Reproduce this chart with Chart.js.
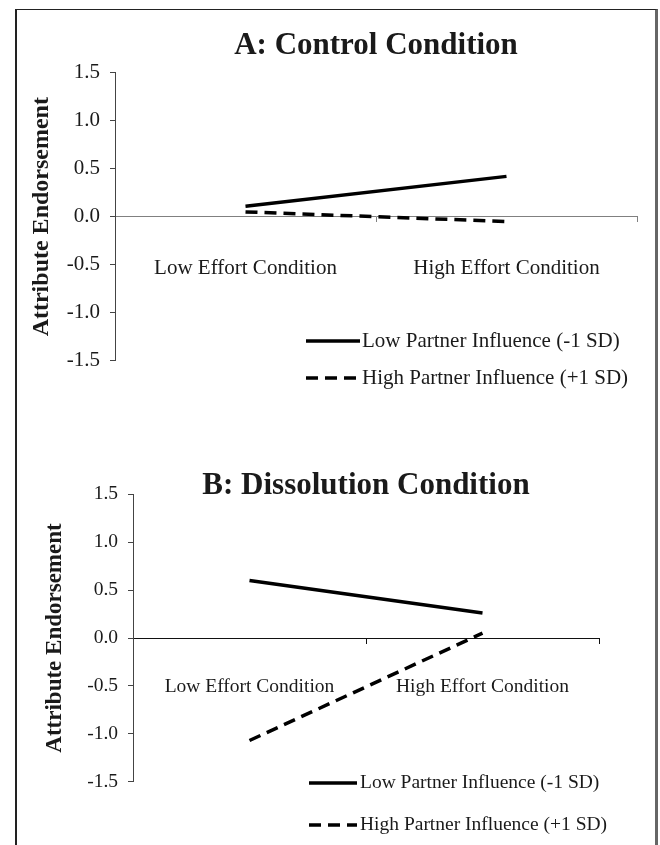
<!DOCTYPE html>
<html><head><meta charset="utf-8">
<script src="https://cdn.jsdelivr.net/npm/chart.js@4"></script>
<style>
html,body{margin:0;padding:0;background:#fff;}
#wrap{position:relative;width:660px;height:845px;overflow:hidden;}
#frame{position:absolute;left:15px;top:9px;width:643px;height:900px;border-left:2px solid #222;border-top:1.5px solid #222;border-right:3px solid #666;box-sizing:border-box;}
canvas{position:absolute;left:0;}
</style></head><body>
<div id="wrap"><div id="frame"></div>
<canvas id="cA" width="660" height="420" style="top:0;width:660px;height:420px;"></canvas>
<canvas id="cB" width="660" height="405" style="top:440px;width:660px;height:405px;"></canvas>
</div>
<script>
// ---- data ----
const categories = ["Low Effort Condition", "High Effort Condition"];
const seriesLabels = ["Low Partner Influence (-1 SD)", "High Partner Influence (+1 SD)"];
const controlLow = [0.11, 0.42];
const controlHigh = [0.05, -0.05];
const dissolutionLow = [0.60, 0.26];
const dissolutionHigh = [-1.07, 0.05];
const yTicks = [-1.5, -1.0, -0.5, 0.0, 0.5, 1.0, 1.5];
const panelTitles = ["A: Control Condition", "B: Dissolution Condition"];
const yTitle = "Attribute Endorsement";

const SERIF = '"Liberation Serif", "Times New Roman", Times, serif';
const TXT = '#1a1a1a';

const legendPlugin = {
  id: 'lineLegend',
  afterDraw(chart, args, opts) {
    const ctx = chart.ctx;
    chart.data.datasets.forEach((ds, i) => {
      const y = opts.rows[i];
      ctx.save();
      ctx.strokeStyle = ds.borderColor;
      ctx.lineWidth = ds.borderWidth;
      ctx.lineCap = 'butt';
      ctx.setLineDash(ds.borderDash || []);
      ctx.beginPath();
      ctx.moveTo(opts.x, y);
      ctx.lineTo(opts.x + opts.len, y);
      ctx.stroke();
      ctx.setLineDash([]);
      ctx.fillStyle = TXT;
      ctx.font = opts.font;
      ctx.textBaseline = 'middle';
      ctx.textAlign = 'left';
      ctx.fillText(ds.label, opts.x + opts.len + opts.gap, y);
      ctx.restore();
    });
  }
};

function makeChart(id, c) {
  return new Chart(document.getElementById(id), {
    type: 'line',
    data: {
      labels: categories,
      datasets: [
        {label: seriesLabels[0], data: c.low, borderColor: '#000', borderWidth: 3.5, borderDash: [],
         pointRadius: 0, tension: 0, borderCapStyle: 'butt', fill: false},
        {label: seriesLabels[1], data: c.high, borderColor: '#000', borderWidth: 3.5, borderDash: [12, 7],
         pointRadius: 0, tension: 0, borderCapStyle: 'butt', fill: false}
      ]
    },
    options: {
      responsive: false, animation: false, events: [],
      layout: {padding: {left: 0, top: 0, right: c.padR, bottom: c.padB}},
      plugins: {
        legend: {display: false},
        tooltip: {enabled: false},
        title: {display: true, text: c.title, fullSize: false, color: TXT,
          font: {family: SERIF, size: 31, weight: 'bold', lineHeight: 0.6},
          padding: {top: c.tTop, bottom: c.tBot}},
        lineLegend: {x: c.legX, len: c.legLen, gap: c.legGap, rows: c.legRows,
          font: c.fs + 'px ' + SERIF}
      },
      scales: {
        x: {
          type: 'category', offset: true, position: {y: 0},
          border: {display: true, color: c.xColor, width: 1},
          grid: {display: true, drawOnChartArea: false, drawTicks: true, tickLength: 5, offset: true, color: c.xColor},
          ticks: {color: TXT, padding: c.xPad, font: {family: SERIF, size: c.fs}, maxRotation: 0, autoSkip: false}
        },
        y: {
          min: -1.5, max: 1.5,
          afterBuildTicks: s => { s.ticks = yTicks.map(v => ({value: v})); },
          afterFit: s => { s.width = c.yWidth; },
          border: {display: true, color: '#444', width: 1},
          grid: {drawOnChartArea: false, drawTicks: true, tickLength: 5, color: '#444'},
          ticks: {color: TXT, padding: 10, font: {family: SERIF, size: c.fs},
            callback: v => Number(v).toFixed(1)},
          title: {display: true, text: yTitle, color: TXT,
            font: {family: SERIF, size: c.yfs, weight: 'bold'},
            padding: {top: c.yTitlePad, bottom: 0}}
        }
      }
    },
    plugins: [legendPlugin]
  });
}

makeChart('cA', {
  title: panelTitles[0], low: controlLow, high: controlHigh,
  padR: 23, padB: 59.3, tTop: 36.2, tBot: 17.9,
  yWidth: 115, yfs: 24, yTitlePad: 27.6, fs: 21, xPad: 33.7, xColor: '#808080',
  legX: 306, legLen: 54, legGap: 2, legRows: [341, 378]
});
makeChart('cB', {
  title: panelTitles[1], low: dissolutionLow, high: dissolutionHigh,
  padR: 61, padB: 63.3, tTop: 36.2, tBot: -0.5,
  yWidth: 133, yfs: 23, yTitlePad: 41.2, fs: 19.5, xPad: 32.5, xColor: '#111',
  legX: 309, legLen: 48, legGap: 3, legRows: [343, 385]
});
</script>
</body></html>
